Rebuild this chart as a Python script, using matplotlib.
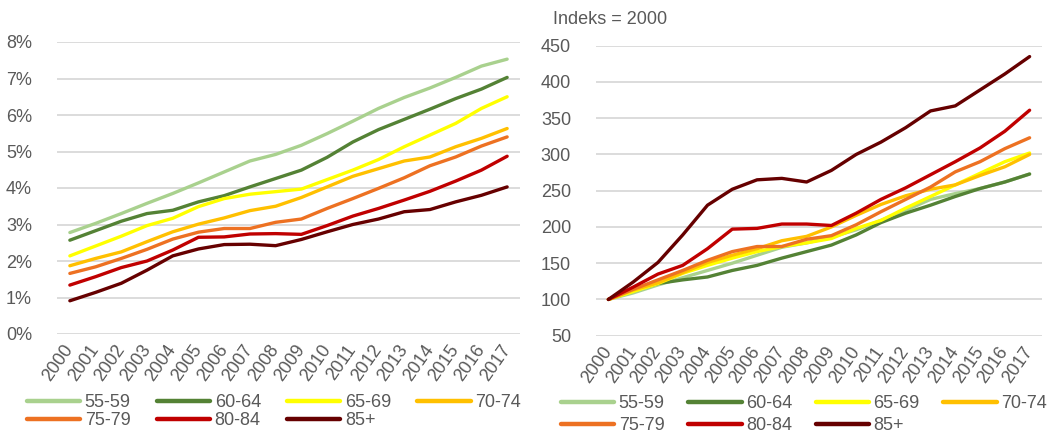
import matplotlib
matplotlib.use('Agg')
import matplotlib.pyplot as plt
import numpy as np

plt.rcParams['font.family'] = ['Liberation Sans', 'DejaVu Sans']

years = [str(y) for y in range(2000, 2018)]
groups = ['55-59', '60-64', '65-69', '70-74', '75-79', '80-84', '85+']
colors = ['#A9D18E', '#548235', '#FFFF00', '#FFC000', '#ED7122', '#C00000', '#660000']

# share of population (%)
share_5559 = [2.78, 3.03, 3.30, 3.58, 3.85, 4.14, 4.44, 4.74, 4.92, 5.17, 5.49, 5.83, 6.18, 6.48, 6.74, 7.03, 7.34, 7.53]
share_6064 = [2.57, 2.83, 3.09, 3.30, 3.39, 3.62, 3.79, 4.03, 4.26, 4.49, 4.84, 5.26, 5.60, 5.88, 6.16, 6.45, 6.71, 7.03]
share_6569 = [2.14, 2.41, 2.68, 2.97, 3.17, 3.49, 3.71, 3.83, 3.90, 3.97, 4.23, 4.49, 4.78, 5.13, 5.45, 5.77, 6.18, 6.50]
share_7074 = [1.87, 2.07, 2.25, 2.53, 2.80, 3.01, 3.18, 3.38, 3.50, 3.74, 4.03, 4.32, 4.53, 4.74, 4.85, 5.13, 5.36, 5.63]
share_7579 = [1.66, 1.84, 2.07, 2.32, 2.60, 2.79, 2.89, 2.89, 3.06, 3.15, 3.44, 3.71, 3.99, 4.28, 4.61, 4.85, 5.15, 5.40]
share_8084 = [1.34, 1.57, 1.82, 2.00, 2.30, 2.65, 2.66, 2.74, 2.75, 2.73, 2.97, 3.23, 3.44, 3.67, 3.91, 4.19, 4.49, 4.87]
share_85 = [0.91, 1.14, 1.39, 1.75, 2.14, 2.33, 2.45, 2.46, 2.42, 2.59, 2.80, 3.00, 3.15, 3.35, 3.41, 3.62, 3.80, 4.03]

# index, 2000 = 100
idx_5559 = [100, 109, 120, 130, 140, 150, 161, 172, 178, 186, 196, 209, 223, 238, 246, 253, 262, 273]
idx_6064 = [100, 113, 122, 127, 131, 140, 147, 157, 166, 175, 189, 206, 219, 230, 242, 253, 262, 273]
idx_6569 = [100, 111, 122, 136, 147, 157, 166, 173, 178, 184, 198, 209, 226, 242, 258, 274, 290, 302]
idx_7074 = [100, 113, 123, 137, 151, 161, 170, 181, 187, 200, 216, 231, 243, 252, 258, 271, 283, 300]
idx_7579 = [100, 114, 127, 140, 154, 166, 173, 173, 183, 188, 203, 221, 238, 255, 276, 290, 308, 323]
idx_8084 = [100, 117, 135, 147, 170, 197, 198, 204, 204, 202, 219, 238, 254, 272, 290, 309, 332, 361]
idx_85 = [100, 124, 151, 189, 230, 252, 265, 267, 262, 278, 300, 317, 337, 360, 367, 389, 411, 435]

shares = [share_5559, share_6064, share_6569, share_7074, share_7579, share_8084, share_85]
indexes = [idx_5559, idx_6064, idx_6569, idx_7074, idx_7579, idx_8084, idx_85]

txt = '#595959'
fs = 13
x = np.arange(len(years))

fig = plt.figure(figsize=(10.5, 4.34), dpi=100)
ax1 = fig.add_axes([57/1050, 1-334/434, 463/1050, 292/434])
ax2 = fig.add_axes([596/1050, 1-335.7/434, 446/1050, 290/434])


def style(ax):
    for s in ax.spines.values():
        s.set_visible(False)
    ax.set_xlim(-0.5, 17.5)
    ax.set_xticks(x)
    ax.set_xticklabels(years, rotation=55, ha='right', va='center',
                       rotation_mode='anchor', fontsize=fs - 0.5, color=txt)
    ax.tick_params(axis='both', length=0, labelsize=fs, labelcolor=txt)
    ax.tick_params(axis='y', pad=18)
    ax.tick_params(axis='x', pad=9)
    ax.grid(axis='y', color='#D9D9D9', lw=1.3)
    ax.set_axisbelow(True)


for vals, c, g in zip(shares, colors, groups):
    ax1.plot(x, vals, color=c, lw=2.4, label=g, solid_capstyle='round')
for vals, c, g in zip(indexes, colors, groups):
    ax2.plot(x, vals, color=c, lw=2.4, label=g, solid_capstyle='round')

style(ax1)
ax1.set_ylim(0, 8)
ax1.set_yticks(range(0, 9))
ax1.set_yticklabels([f'{v}%' for v in range(0, 9)])

style(ax2)
ax2.set_ylim(50, 450)
ax2.set_yticks(range(50, 451, 50))

fig.text(553/1050, 1-20/434, 'Indeks = 2000', fontsize=fs, color=txt, va='center')

order = [0, 4, 1, 5, 2, 6, 3]
for ax, x0, y0, ls, cs in [(ax1, 27, 394, 0.05, 1.45), (ax2, 561, 395, 0.3, 1.3)]:
    h, l = ax.get_legend_handles_labels()
    leg = ax.legend([h[i] for i in order], [l[i] for i in order], ncol=4,
                    loc='upper left', bbox_to_anchor=(x0/1050, 1-y0/434),
                    bbox_transform=fig.transFigure, frameon=False, fontsize=fs,
                    borderpad=0, borderaxespad=0, handlelength=2.95,
                    handletextpad=0.25, columnspacing=cs, labelspacing=ls)
    for t in leg.get_texts():
        t.set_color(txt)
    for ln in leg.get_lines():
        ln.set_linewidth(3.2)

fig.savefig('out.png', dpi=100)
